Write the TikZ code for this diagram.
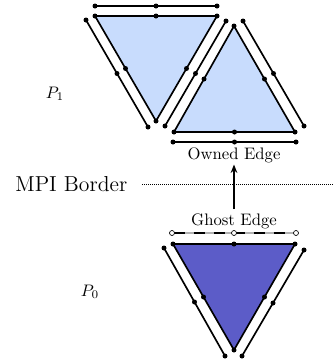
\documentclass[tikz,border=0pt]{standalone}
\usetikzlibrary{arrows.meta}
\definecolor{lightfill}{RGB}{200,220,253}
\definecolor{darkfill}{RGB}{92,92,200}
\tikzset{
  edge/.style={line width=1pt, black},
  tri/.style={line width=1pt, black, line join=round},
  vdot/.style={circle, fill=black, inner sep=0pt, minimum size=3pt},
  gdot/.style={circle, draw=black, fill=white, line width=0.4pt, inner sep=0pt, minimum size=3pt},
  lbl/.style={font=\fontsize{10}{12}\selectfont, inner sep=1pt},
}
\begin{document}
\begin{tikzpicture}[x=0.6pt,y=-0.6pt]
\useasboundingbox (0,0) rectangle (333,363);
% ---------- top-left triangle (inverted) ----------
\coordinate (A1) at (95,16);
\coordinate (A2) at (217,16);
\coordinate (A3) at (156,121);
\fill[lightfill] (A1) -- (A2) -- (A3) -- cycle;
\draw[tri] (A1) -- (A2) -- (A3) -- cycle;
\node[vdot] at (A1) {};
\node[vdot] at (A2) {};
\node[vdot] at (A3) {};
\node[vdot] at (156,16) {};
\node[vdot] at (125.5,68.5) {};
\node[vdot] at (186.5,68.5) {};
% copies
\coordinate (ta) at (95,6); \coordinate (tb) at (217,6);
\draw[edge] (ta) -- (tb);
\node[vdot] at (ta) {}; \node[vdot] at (tb) {}; \node[vdot] at (156,6) {};
\coordinate (la) at (86,20); \coordinate (lb) at (148,127);
\draw[edge] (la) -- (lb);
\node[vdot] at (la) {}; \node[vdot] at (lb) {}; \node[vdot] at (117,73.5) {};
\coordinate (ra) at (226,21); \coordinate (rb) at (165,126);
\draw[edge] (ra) -- (rb);
\node[vdot] at (ra) {}; \node[vdot] at (rb) {}; \node[vdot] at (195.5,73.5) {};
% ---------- top-right triangle (upright) ----------
\coordinate (B1) at (234,26);
\coordinate (B2) at (174,132);
\coordinate (B3) at (295,132);
\fill[lightfill] (B1) -- (B2) -- (B3) -- cycle;
\draw[tri] (B1) -- (B2) -- (B3) -- cycle;
\node[vdot] at (B1) {}; \node[vdot] at (B2) {}; \node[vdot] at (B3) {};
\node[vdot] at (204,79) {}; \node[vdot] at (264.5,79) {}; \node[vdot] at (234.5,132) {};
\coordinate (sa) at (243,21); \coordinate (sb) at (304,126);
\draw[edge] (sa) -- (sb);
\node[vdot] at (sa) {}; \node[vdot] at (sb) {}; \node[vdot] at (273.5,73.5) {};
\coordinate (oa) at (173,142); \coordinate (ob) at (296,142);
\draw[edge] (oa) -- (ob);
\node[vdot] at (oa) {}; \node[vdot] at (ob) {}; \node[vdot] at (234.5,142) {};
% ---------- labels ----------
\node[lbl] (owned) at (234,155) {Owned Edge};
\node[lbl] (ghost) at (234,221) {Ghost Edge};
\coordinate (gs) at (234,209);
\draw[line width=1.1pt, -{Stealth[length=5pt,width=4pt]}] (gs) -- (owned.south);
\node[font=\fontsize{13}{15}\selectfont, anchor=west, inner sep=0pt] (mpi) at (15,184) {MPI Border};
\coordinate (bstart) at (142,184);
\coordinate (bend) at (333,184);
\draw[line width=0.4pt, dash pattern=on 0.4pt off 0.8pt] (bstart) -- (bend);
\node[font=\fontsize{10}{12}\selectfont] (p1) at (55,94) {$P_1$};
\node[font=\fontsize{10}{12}\selectfont] (p0) at (90,292) {$P_0$};
% ---------- ghost edge ----------
\coordinate (ga) at (172,233); \coordinate (gb) at (296,233);
\draw[line width=0.8pt, gray!60] (ga) -- (gb);
\draw[line width=1.1pt, dash pattern=on 7pt off 5pt, dash phase=-1pt] (ga) -- (gb);
\node[gdot] at (ga) {}; \node[gdot] at (gb) {}; \node[gdot] at (234,233) {};
% ---------- bottom triangle ----------
\coordinate (C1) at (173,244);
\coordinate (C2) at (295,244);
\coordinate (C3) at (234,350);
\fill[darkfill] (C1) -- (C2) -- (C3) -- cycle;
\draw[tri] (C1) -- (C2) -- (C3) -- cycle;
\node[vdot] at (C1) {}; \node[vdot] at (C2) {}; \node[vdot] at (C3) {};
\node[vdot] at (234,244) {}; \node[vdot] at (203.5,297) {}; \node[vdot] at (264.5,297) {};
\coordinate (da) at (164,248); \coordinate (db) at (225,356);
\draw[edge] (da) -- (db);
\node[vdot] at (da) {}; \node[vdot] at (db) {}; \node[vdot] at (194.5,302) {};
\coordinate (ea) at (304,250); \coordinate (eb) at (242,356);
\draw[edge] (ea) -- (eb);
\node[vdot] at (ea) {}; \node[vdot] at (eb) {}; \node[vdot] at (273,303) {};
\end{tikzpicture}
\end{document}
